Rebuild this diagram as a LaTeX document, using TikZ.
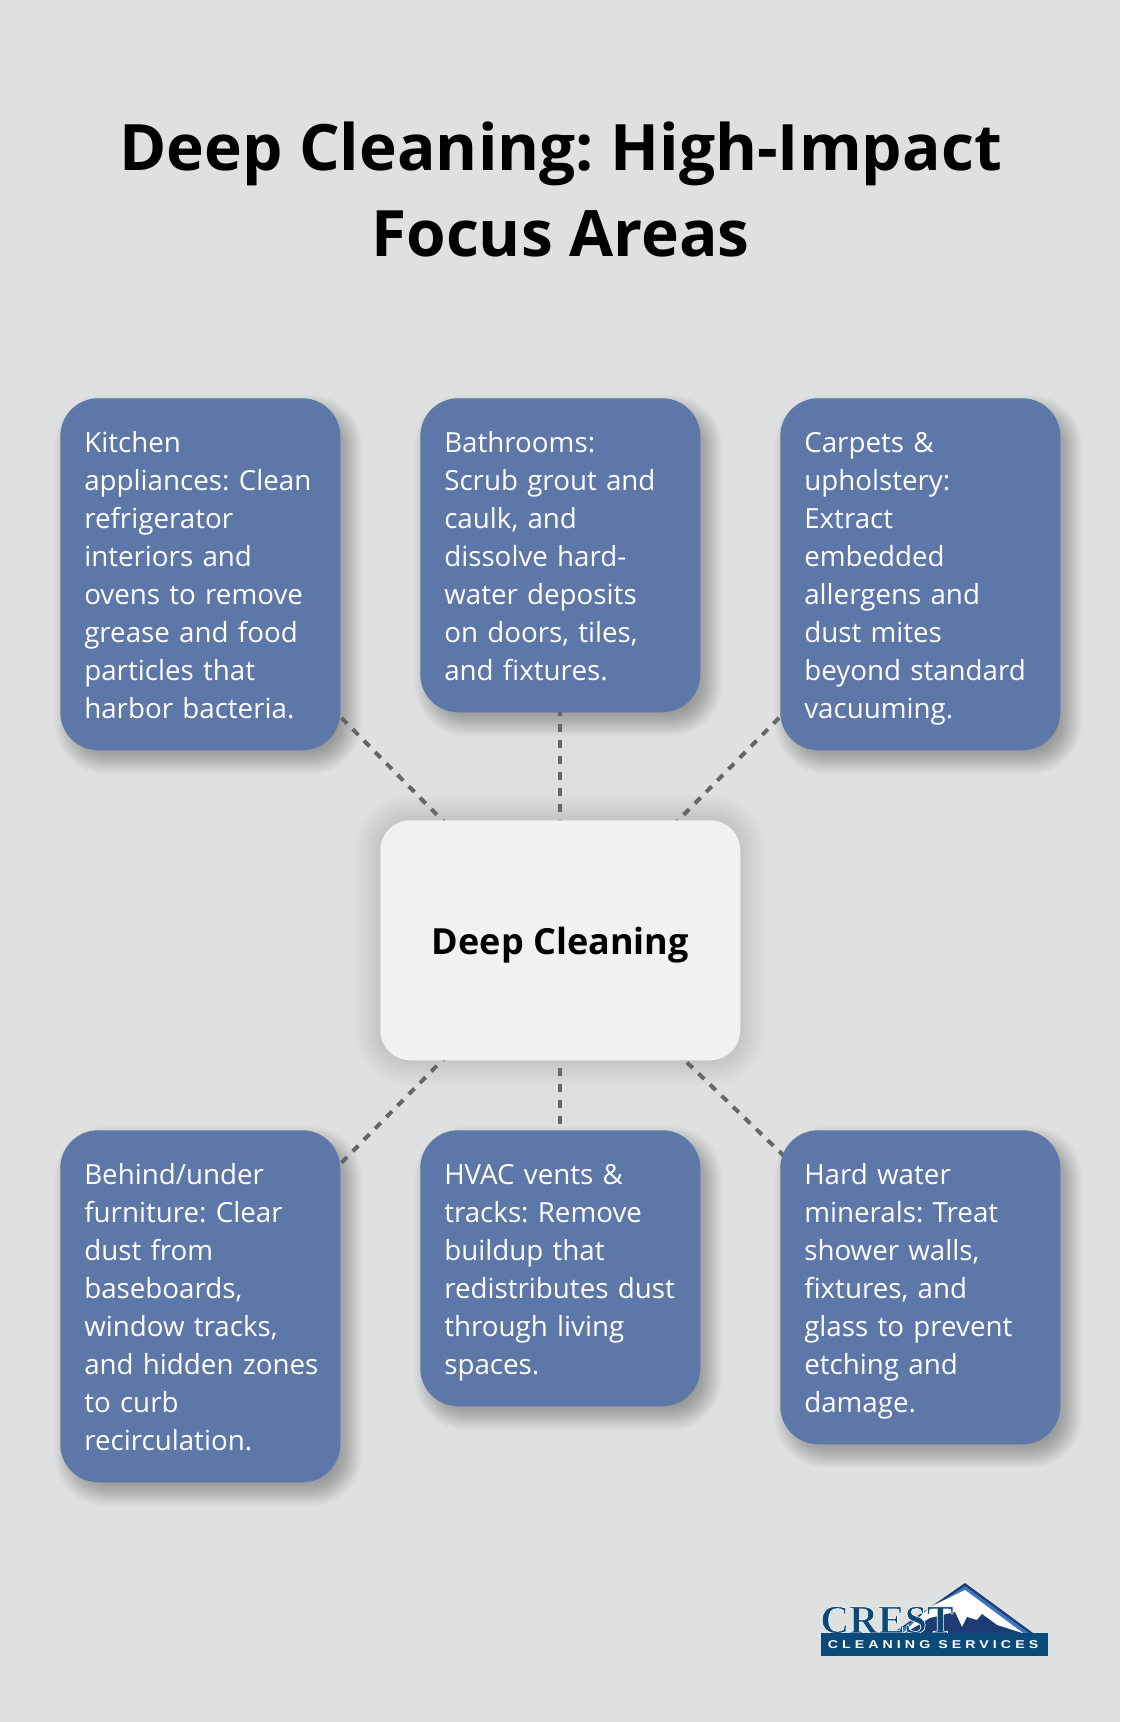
\documentclass[tikz,border=0pt]{standalone}
\usepackage{fontspec}
\setmainfont{Open Sans}
\newfontfamily\logoserif{Liberation Serif}
\newfontfamily\logosans[LetterSpace=36,FakeStretch=1.25]{Liberation Sans}
\usetikzlibrary{calc}
\pgfdeclarelayer{pagelayer}
\pgfdeclarelayer{shadowlayer}
\pgfdeclarelayer{linelayer}
\pgfsetlayers{pagelayer,shadowlayer,linelayer,main}
\definecolor{pagebg}{HTML}{DFE1E0}
\definecolor{boxblue}{HTML}{5D77A8}
\definecolor{centerbox}{HTML}{EFF1F3}
\definecolor{linegray}{HTML}{666666}
\definecolor{logonavy}{HTML}{0A4A7A}
\definecolor{logodark}{HTML}{1D3B74}
\definecolor{logolight}{HTML}{3A78C2}
\frenchspacing
\newcommand{\tstart}{\leftskip=3pt\relax\rule{0pt}{22.5pt}}
\newcommand{\tend}{\rule[-6pt]{0pt}{6pt}\par}
\tikzset{
  x=0.75pt,y=-0.75pt,
  topic/.style={fill=boxblue,text=white,rounded corners=28.5pt,anchor=north west,
    text width=180pt,inner xsep=15pt,inner ysep=18pt,align=left,
    font=\frenchspacing\fontsize{20.8}{28.5}\selectfont},
  hub/.style={fill=centerbox,text=black,rounded corners=22.5pt,anchor=north west,
    minimum width=270pt,minimum height=180pt,inner sep=0pt,
    text height=21pt,text depth=0pt,
    font=\bfseries\fontsize{27}{36}\selectfont},
  title/.style={text=black,align=center,inner sep=0pt,
    font=\frenchspacing\bfseries\fontsize{48}{64.5}\selectfont},
  link/.style={draw=linegray,line width=3pt,dash pattern=on 6pt off 6pt},
}
% node, dx, dy, strength, list of growth values, radius (pt)
\newcommand{\softshadow}[6]{%
  \foreach \d in {#5}{
    \fill[black,opacity=#4,rounded corners={max(#6+\d*0.75,2)*1pt}]
      ($(#1.north west)+(#2-\d,#3-\d)$) rectangle ($(#1.south east)+(#2+\d,#3+\d)$);
  }}
\begin{document}
\begin{tikzpicture}
\useasboundingbox (0,0) rectangle (1120,1722);
\begin{pgfonlayer}{pagelayer}
\fill[pagebg] (0,0) rectangle (1120,1722);
\end{pgfonlayer}
\node[title] (ttl) at (560.5,190) {Deep Cleaning: High-Impact\\Focus Areas};
\node[hub] (hubnode) at (380,820) {Deep Cleaning};
\node[topic] (a) at (60,398) {\tstart Kitchen\\appliances: Clean\\refrigerator\\interiors and\\ovens to remove\\grease and food\\particles that\\harbor bacteria.\tend};
\node[topic] (b) at (420,398) {\tstart Bathrooms:\\Scrub grout and\\caulk, and\\dissolve hard-\\water deposits\\on doors, tiles,\\and fixtures.\tend};
\node[topic] (c) at (780,398) {\tstart Carpets \&\\upholstery:\\Extract\\embedded\\allergens and\\dust mites\\beyond standard\\vacuuming.\tend};
\node[topic] (d) at (60,1130) {\tstart Behind/under\\furniture: Clear\\dust from\\baseboards,\\window tracks,\\and hidden zones\\to curb\\recirculation.\tend};
\node[topic] (e) at (420,1130) {\tstart HVAC vents \&\\tracks: Remove\\buildup that\\redistributes dust\\through living\\spaces.\tend};
\node[topic] (f) at (780,1130) {\tstart Hard water\\minerals: Treat\\shower walls,\\fixtures, and\\glass to prevent\\etching and\\damage.\tend};
\begin{pgfonlayer}{shadowlayer}
  \foreach \n in {a,b,c,d,e,f}{\softshadow{\n}{8}{10}{0.012}{-14,-13,...,14}{28.5}}
  \softshadow{hubnode}{0}{0}{0.0095}{-26,-24,...,26}{22.5}
\end{pgfonlayer}
\begin{pgfonlayer}{linelayer}
  \foreach \n in {a,b,c,d,e,f}{\draw[link] (hubnode.center) -- (\n.center);}
\end{pgfonlayer}
% logo
\fill[logodark] (965,1583) -- (1033,1633) -- (893,1633) -- cycle;
\fill[logolight] (965,1586) -- (1029,1633) -- (895,1633) -- cycle;
\fill[white] (965,1590) -- (1023,1633) -- (903,1633) -- (930,1607) -- cycle;
\fill[logodark] (905,1633) -- (930,1618) -- (955,1612) -- (962,1627) -- (967,1617) -- (977,1620) -- (982,1614) -- (997,1625) -- (1022,1633) -- cycle;
\node[anchor=base west,inner sep=0pt,text=logonavy,font=\logoserif\bfseries\fontsize{30}{30}\selectfont] (crest) at (820,1633)
  {\special{pdf:code q 2 Tr 0.5 w 1 1 1 RG}CREST\special{pdf:code Q}};
\fill[logonavy] (821,1633) rectangle (1048,1656);
\node[anchor=base,inner sep=0pt,text=white,font=\logosans\bfseries\fontsize{8.5}{10}\selectfont] (svc) at (933,1648.5) {CLEANING SERVICES};
\end{tikzpicture}
\end{document}
